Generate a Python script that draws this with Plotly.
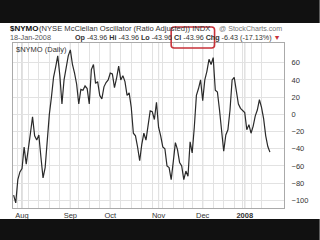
import pandas as pd
import plotly.graph_objects as go

# ---- data ----
holidays = ["2007-09-03", "2007-11-22", "2007-12-25", "2008-01-01"]
dates = [d.strftime("%Y-%m-%d") for d in pd.bdate_range("2007-07-26", "2008-01-18")
         if d.strftime("%Y-%m-%d") not in holidays]

nymo = [-94, -103, -76, -67, -63, -38, -58, -42, -22, -3,
        -25, -30, -24, -50, -74, -62, -28, 0, 20, 43,
        55, 68, 45, 12, 40, 55, 68, 75, 58, 48,
        35, 12, 29, 28, 33, 30, 12, 52, 58, 36,
        38, 22, 18, 32, 37, 40, 48, 47, 31, 42,
        56, 40, 45, 38, 22, 25, 8, -22, -25, -38,
        -54, -35, -22, -30, -10, 4, 3, -6, 14, -15,
        -25, -38, -40, -60, -62, -76, -55, -33, -41, -56,
        -60, -76, -66, -72, -32, -45, -15, 22, 30, 40,
        16, 40, 50, 64, 58, 66, 28, 26, 5, -17,
        -43, -24, -18, 5, 40, 43, 29, 12, 7, 4,
        2, -18, -12, -22, -14, -2, 5, 17, 8, -5,
        -25, -37.53, -43.96]

month_starts = ["2007-08-01", "2007-09-04", "2007-10-01", "2007-11-01", "2007-12-03", "2008-01-02"]
month_labels = ["Aug", "Sep", "Oct", "Nov", "Dec", "<b>2008</b>"]
ytick_vals = [60, 40, 20, 0, -20, -40, -60, -80, -100]

# week starts (first trading day of each week)
ser = pd.Series(pd.to_datetime(dates))
week_starts = [d.strftime("%Y-%m-%d") for d in ser.groupby(ser.dt.to_period("W")).min()]
week_starts = [w for w in week_starts if w != dates[0]]

tickvals = sorted(set(week_starts) | set(month_starts))
ticktext = [month_labels[month_starts.index(t)] if t in month_starts else "" for t in tickvals]

W, H = 320, 240
L, R, T, B = 12, 27, 43, 32
PW, PH = W - L - R, H - T - B


def px(x):
    return (x - L) / PW


def py(y):
    return (H - B - y) / PH


FONT = "Liberation Sans, Arial, sans-serif"

fig = go.Figure()
fig.add_trace(go.Scatter(x=dates, y=nymo, mode="lines",
                         line=dict(color="#2a2a2a", width=1.2), hoverinfo="skip"))

shapes = []
for m in month_starts:
    shapes.append(dict(type="line", xref="x", yref="paper", x0=m, x1=m, y0=0, y1=1,
                       line=dict(color="#b8b8b8", width=1), layer="below"))
# black video bands
shapes.append(dict(type="rect", xref="paper", yref="paper", x0=px(-5), x1=px(330),
                   y0=py(23), y1=py(-5), fillcolor="#111111", line=dict(width=0)))
shapes.append(dict(type="rect", xref="paper", yref="paper", x0=px(-5), x1=px(330),
                   y0=py(245), y1=py(219), fillcolor="#111111", line=dict(width=0)))
# red rounded highlight box
bx0, bx1, by0, by1, r = 176, 221, 27, 48, 3
path = (f"M {px(bx0 + r)},{py(by0)} L {px(bx1 - r)},{py(by0)} "
        f"Q {px(bx1)},{py(by0)} {px(bx1)},{py(by0 + r)} "
        f"L {px(bx1)},{py(by1 - r)} Q {px(bx1)},{py(by1)} {px(bx1 - r)},{py(by1)} "
        f"L {px(bx0 + r)},{py(by1)} Q {px(bx0)},{py(by1)} {px(bx0)},{py(by1 - r)} "
        f"L {px(bx0)},{py(by0 + r)} Q {px(bx0)},{py(by0)} {px(bx0 + r)},{py(by0)} Z")
shapes.append(dict(type="path", xref="paper", yref="paper", path=path,
                   line=dict(color="#c8323a", width=1.6)))

ann = []
def add_text(text, x, y, size, color="#222", xanchor="left"):
    ann.append(dict(text=text, xref="paper", yref="paper", x=px(x), y=py(y),
                    xanchor=xanchor, yanchor="middle", showarrow=False,
                    font=dict(family=FONT, size=size, color=color)))

add_text("<b>$NYMO</b>", 6.5, 28.5, 8, "#111")
add_text("(NYSE McClellan Oscillator (Ratio Adjusted)) INDX", 37, 28.5, 7.6, "#333")
add_text("@ StockCharts.com", 293, 28.5, 7.1, "#777", xanchor="right")
add_text("18-Jan-2008", 6.5, 37.5, 7.3, "#555")
add_text("<b>Op</b> -43.96 <b>Hi</b> -43.96 <b>Lo</b> -43.96 <b>Cl</b> -43.96 <b>Chg</b> -6.43 (-17.13%) "
         "<span style='color:#c8323a'>▼</span>", 292, 37.5, 7.2, "#333", xanchor="right")
ann.append(dict(text="$NYMO (Daily)", xref="paper", yref="paper", x=0.004, y=0.998,
                xanchor="left", yanchor="top", showarrow=False,
                font=dict(family=FONT, size=7.5, color="#333")))

fig.update_layout(
    width=W, height=H, margin=dict(l=L, r=R, t=T, b=B),
    paper_bgcolor="white", plot_bgcolor="white",
    showlegend=False, shapes=shapes, annotations=ann,
    xaxis=dict(type="category", range=[-0.3, 128.7], tickmode="array",
               tickvals=tickvals, ticktext=ticktext, showgrid=True,
               gridcolor="#e2e2e2", gridwidth=1, ticks="", showline=True,
               linecolor="#aaaaaa", mirror=True, zeroline=False,
               tickfont=dict(family=FONT, size=7.5, color="#333"), tickangle=0),
    yaxis=dict(side="right", range=[-109, 83], tickmode="array", tickvals=ytick_vals,
               showgrid=True, gridcolor="#e2e2e2", gridwidth=1, zeroline=False,
               showline=True, linecolor="#aaaaaa", mirror=True, ticks="",
               ticklabelstandoff=5,
               tickfont=dict(family=FONT, size=7.5, color="#333")),
)

fig.write_html("out.html")
